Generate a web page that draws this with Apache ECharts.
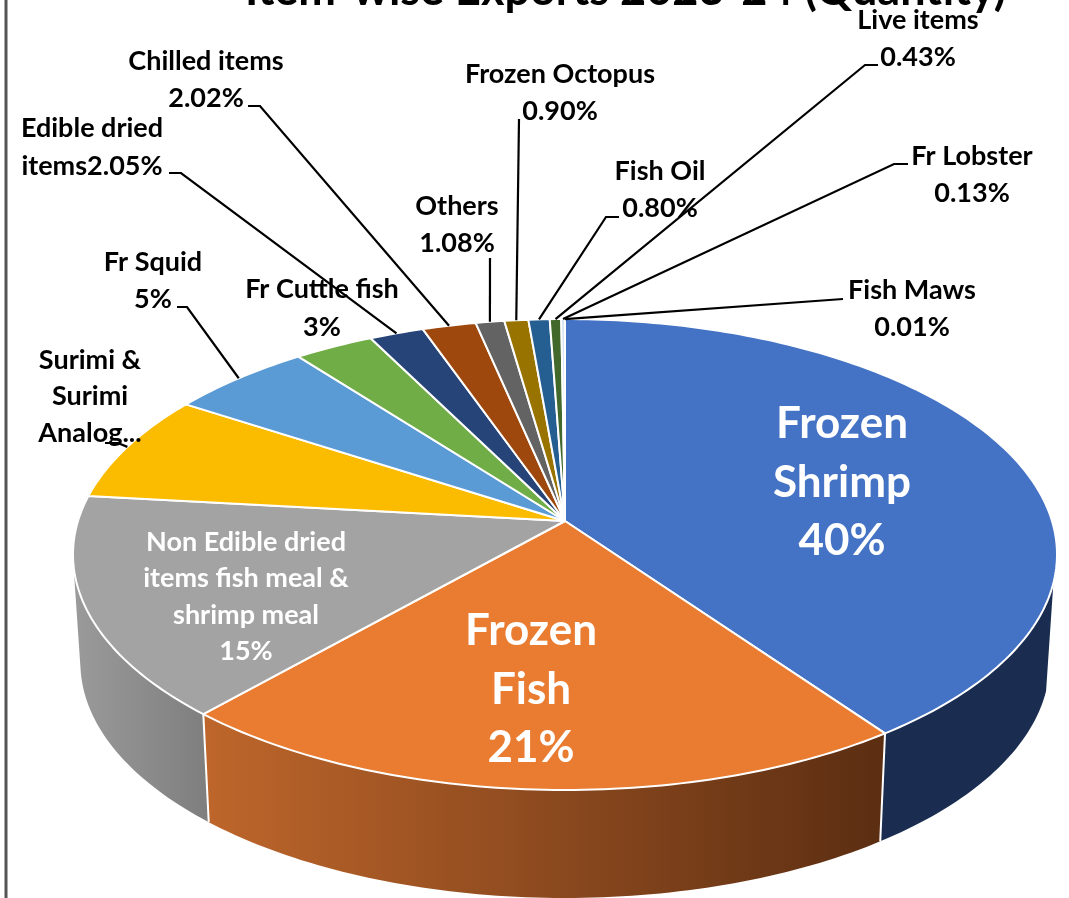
<!DOCTYPE html>
<html>
<head>
<meta charset="utf-8">
<title>Item-wise Exports 2023-24 (Quantity)</title>
<script src="https://cdn.jsdelivr.net/npm/echarts@6/dist/echarts.min.js"></script>
<style>
  html, body { margin: 0; padding: 0; background: #fff; }
  #main { width: 1069px; height: 898px; }
</style>
</head>
<body>
<div id="main"></div>
<script>
// data, clockwise from 12 o'clock. shares, labels as printed
const categories = ['Frozen Shrimp', 'Frozen Fish', 'Non Edible dried items fish meal & shrimp meal',
  'Surimi & Surimi Analog', 'Fr Squid', 'Fr Cuttle fish', 'Edible dried items', 'Chilled items',
  'Others', 'Frozen Octopus', 'Fish Oil', 'Live items', 'Fr Lobster', 'Fish Maws']
const shares = [40.1, 21.4, 15.2, 7.4, 5.4, 3, 2.05, 2.02, 1.08, 0.9, 0.8, 0.43, 0.13, 0.01]
const labelLines = [
  ['Frozen', 'Shrimp', '40%'],
  ['Frozen', 'Fish', '21%'],
  ['Non Edible dried', 'items fish meal &', 'shrimp meal', '15%'],
  ['Surimi &', 'Surimi', 'Analog...'],
  ['Fr Squid', '5%'],
  ['Fr Cuttle fish', '3%'],
  ['Edible dried', 'items2.05%'],
  ['Chilled items', '2.02%'],
  ['Others', '1.08%'],
  ['Frozen Octopus', '0.90%'],
  ['Fish Oil', '0.80%'],
  ['Live items', '0.43%'],
  ['Fr Lobster', '0.13%'],
  ['Fish Maws', '0.01%']
]

// styles + layout
const topColors = ['#4472C4', '#E97C30', '#A3A3A3', '#FBBC00', '#5B9BD5', '#70AD47', '#264478',
  '#9E480E', '#636363', '#997300', '#255E91', '#43682B', '#C5D3EC', '#F1975A']
const FONT = 'Lato, "Open Sans", sans-serif'
const labelFont = { 0: 44, 1: 44 }   // everything else uses 27
const labelColor = { 0: '#fff', 1: '#fff', 2: '#fff' }
// centre x, first line y, line step for each label
const labelPos = [
  [842, 424, 58.5], [531, 631, 58.5], [246, 542, 36.5], [90, 360, 36.5],
  [153, 262, 37], [322, 289, 38], [92, 128, 38], [206, 61, 37],
  [457, 206, 37], [560, 74, 37], [660, 171, 37], [918, 20, 37],
  [972, 156, 37], [912, 290, 37]
]
// leader line: label end, elbow. the slice end comes from the pie itself
const leaderPos = {
  3: [[105, 443], [118, 443]],
  4: [[177, 307], [187, 307]],
  6: [[169, 173], [181, 173]],
  7: [[248, 106], [260, 106]],
  8: [[490, 258]],
  9: [[519, 119]],
  10: [[619, 217], [606, 217]],
  11: [[878, 65], [865, 65]],
  12: [[908, 164], [894, 164]],
  13: [[843, 299]]
}

// pie seen in perspective
const CX = 565, CY = 521, RX = 487, RY = 230.7, PERSP = 0.1423
const WALL = 108, WALL_SHRINK = 0.985
const total = shares.reduce((a, b) => a + b, 0)

function sliceAngles(i) {
  let sum = 0
  for (let k = 0; k < i; k++) sum += shares[k]
  return [sum / total * 360, (sum + shares[i]) / total * 360]
}
function rim(deg, r = 1) {
  const a = deg * Math.PI / 180
  const X = Math.sin(a) * r, Y = -Math.cos(a) * r
  const w = 1 - PERSP * Y
  return [CX + RX * X / w, CY + RY * Y / w]
}
function arcPoints(a0, a1, mapFn) {
  const n = Math.max(2, Math.ceil(Math.abs(a1 - a0)))
  const pts = []
  for (let k = 0; k <= n; k++) pts.push(mapFn(rim(a0 + (a1 - a0) * k / n)))
  return pts
}
const lower = p => [CX + (p[0] - CX) * WALL_SHRINK, p[1] + WALL]
const hGrad = (x0, x1, c0, c1) => ({
  type: 'linear', x: x0, y: 0, x2: x1, y2: 0, global: true,
  colorStops: [{ offset: 0, color: c0 }, { offset: 1, color: c1 }]
})
// side walls only exist for the three front slices
const wallFill = [
  '#1A2D50',
  hGrad(205, 880, '#BE662B', '#5C2E12'),
  hGrad(75, 205, '#9A9A9A', '#7F7F7F')
]
const WALL_FROM = 105, WALL_TO = 260   // silhouette angles of the side

function renderWall(params, api) {
  const i = params.dataIndex
  if (i > 2) return { type: 'group', children: [] }
  let [a0, a1] = sliceAngles(i)
  if (i === 0) a0 = WALL_FROM
  if (i === 2) a1 = WALL_TO
  const topEdge = arcPoints(a0, a1, p => p)
  const botEdge = arcPoints(a1, a0, lower)
  return {
    type: 'polygon',
    shape: { points: topEdge.concat(botEdge) },
    style: { fill: wallFill[i] }
  }
}
function renderWallEdge(params, api) {
  const i = params.dataIndex
  if (i > 1) return { type: 'group', children: [] }
  const p = rim(sliceAngles(i)[1])
  return {
    type: 'line',
    shape: { x1: p[0], y1: p[1], x2: lower(p)[0], y2: lower(p)[1] },
    style: { stroke: '#fff', lineWidth: 2 }
  }
}
function renderTop(params, api) {
  const i = params.dataIndex
  const [a0, a1] = sliceAngles(i)
  return {
    type: 'polygon',
    shape: { points: [[CX, CY]].concat(arcPoints(a0, a1, p => p)) },
    style: { fill: topColors[i], stroke: '#fff', lineWidth: 2, lineJoin: 'round' }
  }
}
function renderLeader(params, api) {
  const i = params.dataIndex
  if (!leaderPos[i]) return { type: 'group', children: [] }
  const [a0, a1] = sliceAngles(i)
  const pts = leaderPos[i].concat([rim((a0 + a1) / 2)])
  return {
    type: 'polyline',
    shape: { points: pts },
    style: { fill: null, stroke: '#000', lineWidth: 2.2 }
  }
}
function renderLabel(params, api) {
  const i = params.dataIndex
  const [x, y, step] = labelPos[i]
  const size = labelFont[i] || 27
  return {
    type: 'group',
    children: labelLines[i].map((t, k) => ({
      type: 'text',
      style: {
        x: x, y: y + k * step, text: t, fill: labelColor[i] || '#000',
        font: '700 ' + size + 'px ' + FONT,
        textAlign: 'center', textVerticalAlign: 'middle'
      }
    }))
  }
}

const rows = categories.map((name, i) => ({ name: name, value: shares[i] }))
const layer = (fn, z) => ({
  type: 'custom', coordinateSystem: 'none', data: rows, renderItem: fn, z: z, silent: true, animation: false
})

const myChart = echarts.init(document.getElementById('main'), null, { renderer: 'canvas' })
myChart.setOption({
  backgroundColor: '#fff',
  animation: false,
  tooltip: { show: false },
  title: {
    text: 'Item-wise Exports 2023-24 (Quantity)',
    left: 245, top: -32, padding: 0,
    textStyle: { fontFamily: FONT, fontWeight: 700, fontSize: 45, color: '#000' }
  },
  graphic: [{
    // frame of the original slide, only its left edge is in shot
    type: 'line',
    shape: { x1: 6, y1: 0, x2: 6, y2: 898 },
    style: { stroke: '#555', lineWidth: 3 }
  }],
  series: [
    layer(renderWall, 1),
    layer(renderWallEdge, 2),
    layer(renderTop, 3),
    layer(renderLeader, 4),
    layer(renderLabel, 5)
  ]
})
</script>
</body>
</html>
